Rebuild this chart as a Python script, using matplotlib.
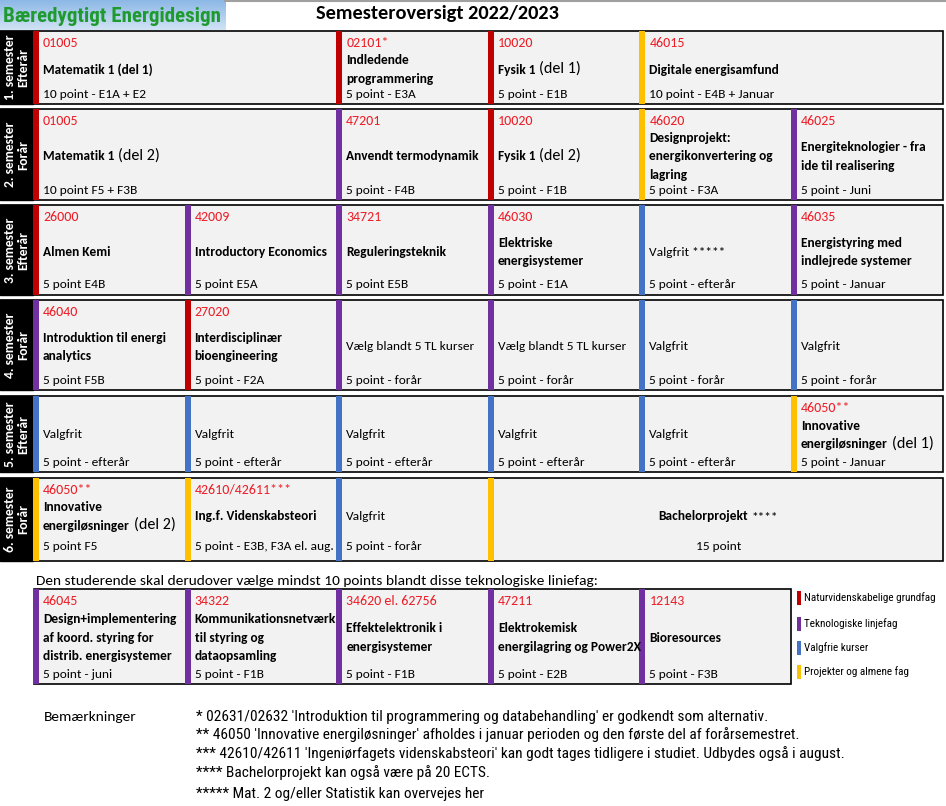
import matplotlib
matplotlib.use("Agg")
import matplotlib.pyplot as plt
from matplotlib import font_manager as fm
from matplotlib.patches import Rectangle
import numpy as np

avail = set(fm.get_font_names())
def pick(*names):
    for n in names:
        if n in avail:
            return n
    return "DejaVu Sans"

MAIN = pick("Carlito", "Open Sans", "Lato")
NARROW = pick("Liberation Sans Narrow", "Roboto Condensed", "Open Sans")
FS = 9.6 if MAIN == "Carlito" else 8.3

# ---------------- data ----------------
title = "Semesteroversigt 2022/2023"
logo_text = "Bæredygtigt Energidesign"
semester_labels = ["1. semester\nEfterår", "2. semester\nForår", "3. semester\nEfterår",
                   "4. semester\nForår", "5. semester\nEfterår", "6. semester\nForår"]

course_codes = [
    ["01005", "02101*", "10020", "46015"],
    ["01005", "47201", "10020", "46020", "46025"],
    ["26000", "42009", "34721", "46030", "", "46035"],
    ["46040", "27020", "", "", "", ""],
    ["", "", "", "", "", "46050**"],
    ["46050**", "42610/42611***", "", ""],
]
course_names = [
    ["Matematik 1 (del 1)", "Indledende\nprogrammering", "Fysik 1|(del 1)", "Digitale energisamfund"],
    ["Matematik 1|(del 2)", "Anvendt termodynamik", "Fysik 1|(del 2)",
     "Designprojekt:\nenergikonvertering og\nlagring", "Energiteknologier - fra\nide til realisering"],
    ["Almen Kemi", "Introductory Economics", "Reguleringsteknik", "Elektriske\nenergisystemer",
     "Valgfrit *****", "Energistyring med\nindlejrede systemer"],
    ["Introduktion til energi\nanalytics", "Interdisciplinær\nbioengineering", "Vælg blandt 5 TL kurser",
     "Vælg blandt 5 TL kurser", "Valgfrit", "Valgfrit"],
    ["Valgfrit", "Valgfrit", "Valgfrit", "Valgfrit", "Valgfrit", "Innovative\nenergiløsninger|(del 1)"],
    ["Innovative\nenergiløsninger|(del 2)", "Ing.f. Videnskabsteori", "Valgfrit", "Bachelorprojekt|****"],
]
course_points = [
    ["10 point - E1A + E2", "5 point - E3A", "5 point - E1B", "10 point - E4B + Januar"],
    ["10 point F5 + F3B", "5 point - F4B", "5 point - F1B", "5 point - F3A", "5 point - Juni"],
    ["5 point E4B", "5 point E5A", "5 point E5B", "5 point - E1A", "5 point - efterår", "5 point - Januar"],
    ["5 point F5B", "5 point - F2A", "5 point - forår", "5 point - forår", "5 point - forår", "5 point - forår"],
    ["5 point - efterår"] * 5 + ["5 point - Januar"],
    ["5 point F5", "5 point - E3B, F3A el. aug.", "5 point - forår", "15 point"],
]
course_types = [
    ["N", "N", "N", "P"],
    ["N", "T", "N", "P", "T"],
    ["N", "T", "T", "T", "V", "T"],
    ["T", "N", "T", "T", "V", "V"],
    ["V", "V", "V", "V", "V", "P"],
    ["P", "P", "V", "P"],
]
course_spans = [
    [2, 1, 1, 2],
    [2, 1, 1, 1, 1],
    [1, 1, 1, 1, 1, 1],
    [1, 1, 1, 1, 1, 1],
    [1, 1, 1, 1, 1, 1],
    [1, 1, 1, 3],
]

elective_intro = "Den studerende skal derudover vælge mindst 10 points blandt disse teknologiske liniefag:"
elective_codes = ["46045", "34322", "34620 el. 62756", "47211", "12143"]
elective_names = ["Design+implementering\naf koord. styring for\ndistrib. energisystemer",
                  "Kommunikationsnetværk\ntil styring og\ndataopsamling",
                  "Effektelektronik i\nenergisystemer",
                  "Elektrokemisk\nenergilagring og Power2X",
                  "Bioresources"]
elective_points = ["5 point - juni", "5 point - F1B", "5 point - F1B", "5 point - E2B", "5 point - F3B"]
elective_types = ["T", "T", "T", "T", "T"]

type_keys = ["N", "T", "V", "P"]
type_labels = ["Naturvidenskabelige grundfag", "Teknologiske linjefag", "Valgfrie kurser",
               "Projekter og almene fag"]
type_colors = {"N": "#C00000", "T": "#7030A0", "V": "#4472C4", "P": "#FFC000"}

regular_names = {"Valgfrit", "Valgfrit *****", "Vælg blandt 5 TL kurser"}

remarks_title = "Bemærkninger"
remarks = [
    "* 02631/02632 'Introduktion til programmering og databehandling' er godkendt som alternativ.",
    "** 46050 'Innovative energiløsninger' afholdes i januar perioden og den første del af forårsemestret.",
    "*** 42610/42611 'Ingeniørfagets videnskabsteori' kan godt tages tidligere i studiet. Udbydes også i august.",
    "**** Bachelorprojekt kan også være på 20 ECTS.",
    "***** Mat. 2 og/eller Statistik kan overvejes her",
]

# ---------------- layout ----------------
W, H = 946, 806
row_tops = [31, 109, 205, 300, 396, 478]
row_bots = [104, 200, 295, 390, 472, 561]
name_dy = [2, 2, 2, 2, 1, -3]
points_dy = [10, 10, 10, 10, 10, 14]
col0, colw, ncol = 33, 151.6, 6
bar_w = 6
el_top, el_bot = 589, 684
LS = 1.65

CELL_BG = "#F2F2F2"
CODE_RED = "#EE1C25"

fig = plt.figure(figsize=(W / 100, H / 100), dpi=100)
ax = fig.add_axes([0, 0, 1, 1])
ax.set_xlim(0, W)
ax.set_ylim(H, 0)
ax.axis("off")
renderer = fig.canvas.get_renderer()
inv = ax.transData.inverted()


def fit(t, target_w):
    """Scale a text's font size so that it spans target_w pixels."""
    w = t.get_window_extent(renderer).width
    t.set_fontsize(t.get_fontsize() * target_w / w)
    return t.get_fontsize()


# logo
grad = np.linspace(0, 1, 64)[:, None]
top_c = np.array([0.55, 0.72, 0.90])
bot_c = np.array([0.82, 0.89, 0.96])
sky = (top_c[None, :] * (1 - grad) + bot_c[None, :] * grad)[:, None, :]
ax.imshow(sky, extent=(0, 225, 30, 0), aspect="auto", zorder=1)
lt = ax.text(3, 16, logo_text, family=[NARROW, "DejaVu Sans"], weight="bold", fontsize=15,
             color="#1E9A2E", ha="left", va="center", zorder=2)
fit(lt, 218)
ax.plot([225, W], [1, 1], color="#A0A0A0", lw=1.5, zorder=1)
tt = ax.text(316, 13, title, family=MAIN, weight="bold", fontsize=FS * 1.4, ha="left", va="center")
fit(tt, 244)


def draw_name(x, y, name, bold, centered, cx=None):
    parts = name.split("|")
    main = parts[0]
    suffix = parts[1] if len(parts) > 1 else ""
    t = ax.text(x, y, main, family=MAIN, weight="bold" if bold else "normal", fontsize=FS,
                ha="left", va="center", linespacing=LS, zorder=5)
    if suffix:
        s = ax.text(0, 0, suffix, family=MAIN, fontsize=FS * (1.0 if suffix.startswith("*") else 1.2),
                    ha="left", va="bottom", zorder=5)
        bb = t.get_window_extent(renderer)
        sb = s.get_window_extent(renderer)
        gap = 4
        if centered:
            total = bb.width + gap + sb.width
            t.set_x(cx - total / 2)
            bb = t.get_window_extent(renderer)
        x1, y0 = inv.transform((bb.x1, bb.y0))
        s.set_position((x1 + gap, y0))
    elif centered:
        t.set_x(cx)
        t.set_ha("center")


def draw_row(top, bot, codes, names, points, types, spans, ndy, pdy):
    mid = (top + bot) / 2
    c = 0
    for code, name, pts, typ, sp in zip(codes, names, points, types, spans):
        x0 = col0 + c * colw
        x1 = col0 + (c + sp) * colw
        ax.add_patch(Rectangle((x0, top), bar_w, bot - top, facecolor=type_colors[typ],
                               edgecolor="none", zorder=3))
        tx = x0 + 10
        centered = sp >= 3
        cx = (x0 + bar_w + x1) / 2
        if code:
            ax.text(tx, top + 12, code, family=MAIN, fontsize=FS * 1.05, color=CODE_RED,
                    ha="left", va="center", zorder=5)
        bold = name.split("|")[0] not in regular_names
        draw_name(tx, mid + ndy, name, bold, centered, cx)
        ax.text(cx if centered else tx, bot - pdy, pts, family=MAIN, fontsize=FS,
                ha="center" if centered else "left", va="center", zorder=5)
        c += sp


for i in range(6):
    top, bot = row_tops[i], row_bots[i]
    ax.add_patch(Rectangle((0, top), col0 + ncol * colw, bot - top, facecolor=CELL_BG,
                           edgecolor="black", lw=1.2, zorder=2))
    ax.add_patch(Rectangle((0, top), col0, bot - top, facecolor="black", edgecolor="black", zorder=3))
    ax.text(col0 / 2, (top + bot) / 2, semester_labels[i], family=MAIN, weight="bold",
            fontsize=FS * 1.02, color="white", rotation=90, ha="center", va="center",
            multialignment="center", linespacing=1.2, zorder=5)
    draw_row(top, bot, course_codes[i], course_names[i], course_points[i], course_types[i],
             course_spans[i], name_dy[i], points_dy[i])

# electives
it = ax.text(36, 581, elective_intro, family=MAIN, fontsize=FS * 1.1, ha="left", va="center")
fit(it, 556)
ax.add_patch(Rectangle((col0 + 1, el_top), 5 * colw - 1, el_bot - el_top, facecolor=CELL_BG,
                       edgecolor="black", lw=1.2, zorder=2))
draw_row(el_top, el_bot, elective_codes, elective_names, elective_points, elective_types,
         [1] * 5, 1, 10)

# legend
leg_y = [598, 624, 648, 672]
leg_fs = None
for k, lab, y in zip(type_keys, type_labels, leg_y):
    ax.add_patch(Rectangle((797, y - 7), 4, 14, facecolor=type_colors[k], edgecolor="none"))
    lg = ax.text(804, y, lab, family=[NARROW, "DejaVu Sans"], fontsize=leg_fs or 7.5,
                 ha="left", va="center")
    if leg_fs is None:
        leg_fs = fit(lg, 132)

# remarks
bt = ax.text(44, 717, remarks_title, family=MAIN, fontsize=FS * 1.1, ha="left", va="center")
fit(bt, 92)
rem_y = [717, 735, 754, 773, 794]
rem_fs = None
for r, y in zip(remarks, rem_y):
    rt = ax.text(196, y, r, family=[NARROW, "DejaVu Sans"], fontsize=rem_fs or 10.5,
                 ha="left", va="center")
    if rem_fs is None:
        rem_fs = fit(rt, 577)

fig.savefig("out.png", dpi=100)
